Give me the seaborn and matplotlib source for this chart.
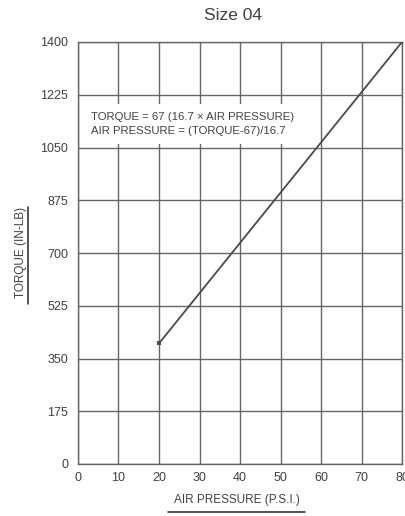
import matplotlib
matplotlib.use("Agg")
import matplotlib.pyplot as plt
from matplotlib.lines import Line2D
import seaborn as sns
import pandas as pd

# Torque line for Size 04 actuator
air_pressure = [20, 80]
torque = [400, 1400]
x_ticks = [0, 10, 20, 30, 40, 50, 60, 70, 80]
y_ticks = [0, 175, 350, 525, 700, 875, 1050, 1225, 1400]

sns.set_style("white")
plt.rcParams["font.family"] = ["Liberation Sans", "DejaVu Sans"]
text_color = "#404040"
grid_color = "#666666"

fig = plt.figure(figsize=(4.06, 5.16), dpi=100)
ax = fig.add_axes([78 / 406, 1 - 464 / 516, 324 / 406, 422 / 516])

df = pd.DataFrame({"pressure": air_pressure, "torque": torque})
sns.lineplot(data=df, x="pressure", y="torque", ax=ax, color="#4a4a4a",
             linewidth=1.3, marker="s", markersize=2.5, markeredgewidth=0,
             zorder=5)

ax.set_xlim(0, 80)
ax.set_ylim(0, 1400)
ax.set_xticks(x_ticks)
ax.set_yticks(y_ticks)
ax.set_xticklabels([str(v) for v in x_ticks])
ax.set_yticklabels([str(v) for v in y_ticks])
ax.grid(True, color=grid_color, linewidth=1.0)
ax.set_axisbelow(True)
for s in ax.spines.values():
    s.set_color(grid_color)
    s.set_linewidth(1.0)
ax.tick_params(axis="y", direction="out", length=4, width=1, color=grid_color,
               labelsize=9, labelcolor=text_color, pad=3)
ax.tick_params(axis="x", direction="out", length=3, width=1, color=grid_color,
               labelsize=9, labelcolor=text_color, pad=3)
ax.set_xlabel("")
ax.set_ylabel("")

ax.text(0.04, 0.805,
        "TORQUE = 67 (16.7 \u00d7 AIR PRESSURE)\nAIR PRESSURE = (TORQUE-67)/16.7",
        transform=ax.transAxes, ha="left", va="center", fontsize=8.2,
        color=text_color, linespacing=1.5, zorder=4,
        bbox=dict(boxstyle="square,pad=0.7", facecolor="white",
                  edgecolor="none"))

fig.text(233 / 406, 1 - 15 / 516, "Size 04", ha="center", va="center",
         fontsize=12.5, color=text_color)

fig.text(237 / 406, 1 - 500 / 516, "AIR PRESSURE (P.S.I.)", ha="center",
         va="center", fontsize=8.5, color=text_color)
fig.add_artist(Line2D([168 / 406, 305 / 406], [1 - 512 / 516, 1 - 512 / 516],
                      transform=fig.transFigure, color="#222222", linewidth=1.1))

fig.text(21 / 406, 1 - 252 / 516, "TORQUE (IN-LB)", ha="center", va="center",
         rotation=90, fontsize=8.5, color=text_color)
fig.add_artist(Line2D([28 / 406, 28 / 406], [1 - 207 / 516, 1 - 304 / 516],
                      transform=fig.transFigure, color="#222222", linewidth=1.1))

fig.savefig("out.png", dpi=100)
